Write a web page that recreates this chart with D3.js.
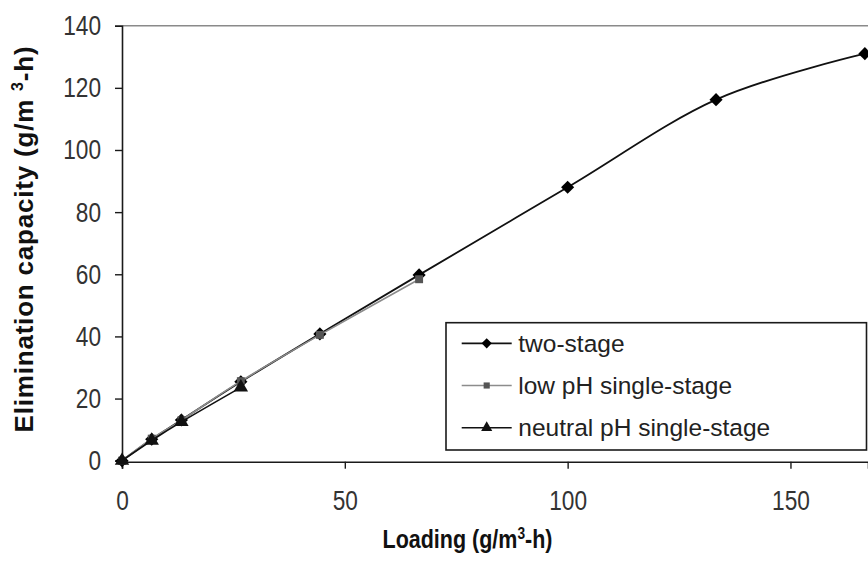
<!DOCTYPE html>
<html>
<head>
<meta charset="utf-8">
<script src="https://cdn.jsdelivr.net/npm/d3@7"></script>
<style>
  html, body { margin: 0; padding: 0; background: #fff; }
  svg { display: block; }
</style>
</head>
<body>
<svg id="chart" width="868" height="563"></svg>
<script>
// Loading (g/m3-h) and elimination capacity (g/m3-h) for each reactor setup
const twoStageLoading = [0, 6.67, 13.33, 26.67, 44.4, 66.67, 100, 133.3, 166.7];
const twoStageEC      = [0, 6.9, 13.1, 25.4, 40.8, 59.8, 88, 116.2, 131];

const lowPHLoading = [0, 6.67, 13.33, 26.67, 44.4, 66.67];
const lowPHEC      = [0, 7.1, 13.0, 25.6, 40.5, 58.4];

const neutralPHLoading = [0, 6.67, 13.33, 26.67];
const neutralPHEC      = [0, 6.5, 12.5, 23.6];

const seriesNames = ["two-stage", "low pH single-stage", "neutral pH single-stage"];
const xTicks = [0, 50, 100, 150];
const yTicks = [0, 20, 40, 60, 80, 100, 120, 140];

const svg = d3.select("#chart");
const x = d3.scaleLinear().domain([0, 167.4]).range([122, 868]);
const y = d3.scaleLinear().domain([0, 140]).range([460.7, 25.7]);

const bodyFont = "'Liberation Sans', Arial, sans-serif";

// narrow-looking tick numerals: squeeze each label to a condensed width
function styleTicks(sel) {
  sel.attr("font-family", bodyFont).attr("font-size", 28).attr("fill", "#333")
    .attr("lengthAdjust", "spacingAndGlyphs")
    .attr("textLength", function () { return this.textContent.length * 12.6; });
}

// plot area top border
svg.append("line")
  .attr("x1", x(0)).attr("x2", 868)
  .attr("y1", y(140)).attr("y2", y(140))
  .attr("stroke", "#8a8a8a").attr("stroke-width", 1.4);

// y axis
const yAxis = svg.append("g")
  .attr("transform", `translate(${x(0)},0)`)
  .call(d3.axisLeft(y).tickValues(yTicks).tickSize(7).tickPadding(14).tickFormat(d3.format("d")));
yAxis.select(".domain").attr("stroke", "#1a1a1a").attr("stroke-width", 1.6);
yAxis.selectAll(".tick line").attr("stroke", "#1a1a1a").attr("stroke-width", 1.4);
yAxis.selectAll(".tick text").call(styleTicks);

// x axis
const xAxis = svg.append("g")
  .attr("transform", `translate(0,${y(0) + 1})`)
  .call(d3.axisBottom(x).tickValues(xTicks).tickSize(7).tickPadding(21).tickFormat(d3.format("d")));
xAxis.select(".domain").attr("stroke", "#1a1a1a").attr("stroke-width", 1.6);
xAxis.selectAll(".tick line").attr("stroke", "#1a1a1a").attr("stroke-width", 1.4);
xAxis.selectAll(".tick text").call(styleTicks);

// axis titles
svg.append("text")
  .attr("transform", "translate(467.5,548) scale(0.86,1)")
  .attr("text-anchor", "middle")
  .attr("font-family", bodyFont).attr("font-weight", "bold").attr("font-size", 25)
  .attr("fill", "#111")
  .call(t => {
    t.append("tspan").text("Loading (g/m");
    t.append("tspan").attr("dy", -9).attr("font-size", 16).text("3");
    t.append("tspan").attr("dy", 9).text("-h)");
  });

svg.append("text")
  .attr("transform", "translate(33,239) rotate(-90)")
  .attr("text-anchor", "middle")
  .attr("font-family", bodyFont).attr("font-weight", "bold").attr("font-size", 26)
  .attr("letter-spacing", 0.8)
  .attr("fill", "#111")
  .call(t => {
    t.append("tspan").text("Elimination capacity (g/m ");
    t.append("tspan").attr("dy", -10).attr("font-size", 16).text("3");
    t.append("tspan").attr("dy", 10).text("-h)");
  });

// series
const series = [
  { name: seriesNames[0], xs: twoStageLoading, ys: twoStageEC, line: "#111", fill: "#000", width: 1.8, symbol: d3.symbolDiamond2, size: 110 },
  { name: seriesNames[1], xs: lowPHLoading, ys: lowPHEC, line: "#8c8c8c", fill: "#555", width: 1.6, symbol: d3.symbolSquare2, size: 80 },
  { name: seriesNames[2], xs: neutralPHLoading, ys: neutralPHEC, line: "#111", fill: "#111", width: 1.6, symbol: d3.symbolTriangle, size: 90 }
];

const lineGen = d3.line()
  .x(d => x(d[0])).y(d => y(d[1]))
  .curve(d3.curveCatmullRom.alpha(0));

series.forEach(s => {
  const pts = s.xs.map((v, i) => [v, s.ys[i]]);
  const g = svg.append("g");
  g.append("path")
    .attr("d", lineGen(pts))
    .attr("fill", "none").attr("stroke", s.line).attr("stroke-width", s.width);
  g.selectAll("path.mk").data(pts).join("path")
    .attr("class", "mk")
    .attr("transform", d => `translate(${x(d[0])},${y(d[1])})`)
    .attr("d", d3.symbol(s.symbol, s.size)())
    .attr("fill", s.fill);
});

// legend
const legend = svg.append("g");
legend.append("rect")
  .attr("x", 446).attr("y", 322.7).attr("width", 420.5).attr("height", 127.3)
  .attr("fill", "#fff").attr("stroke", "#1a1a1a").attr("stroke-width", 1.6);

series.forEach((s, i) => {
  const cy = 343.3 + i * 42.2;
  legend.append("line")
    .attr("x1", 461.7).attr("x2", 511.7).attr("y1", cy).attr("y2", cy)
    .attr("stroke", s.line).attr("stroke-width", s.width);
  legend.append("path")
    .attr("transform", `translate(486.7,${cy})`)
    .attr("d", d3.symbol(s.symbol, s.size * 0.6)())
    .attr("fill", s.fill);
  legend.append("text")
    .attr("x", 518.3).attr("y", cy + 8.5)
    .attr("font-family", bodyFont).attr("font-size", 24.5).attr("fill", "#222")
    .text(s.name);
});
</script>
</body>
</html>
